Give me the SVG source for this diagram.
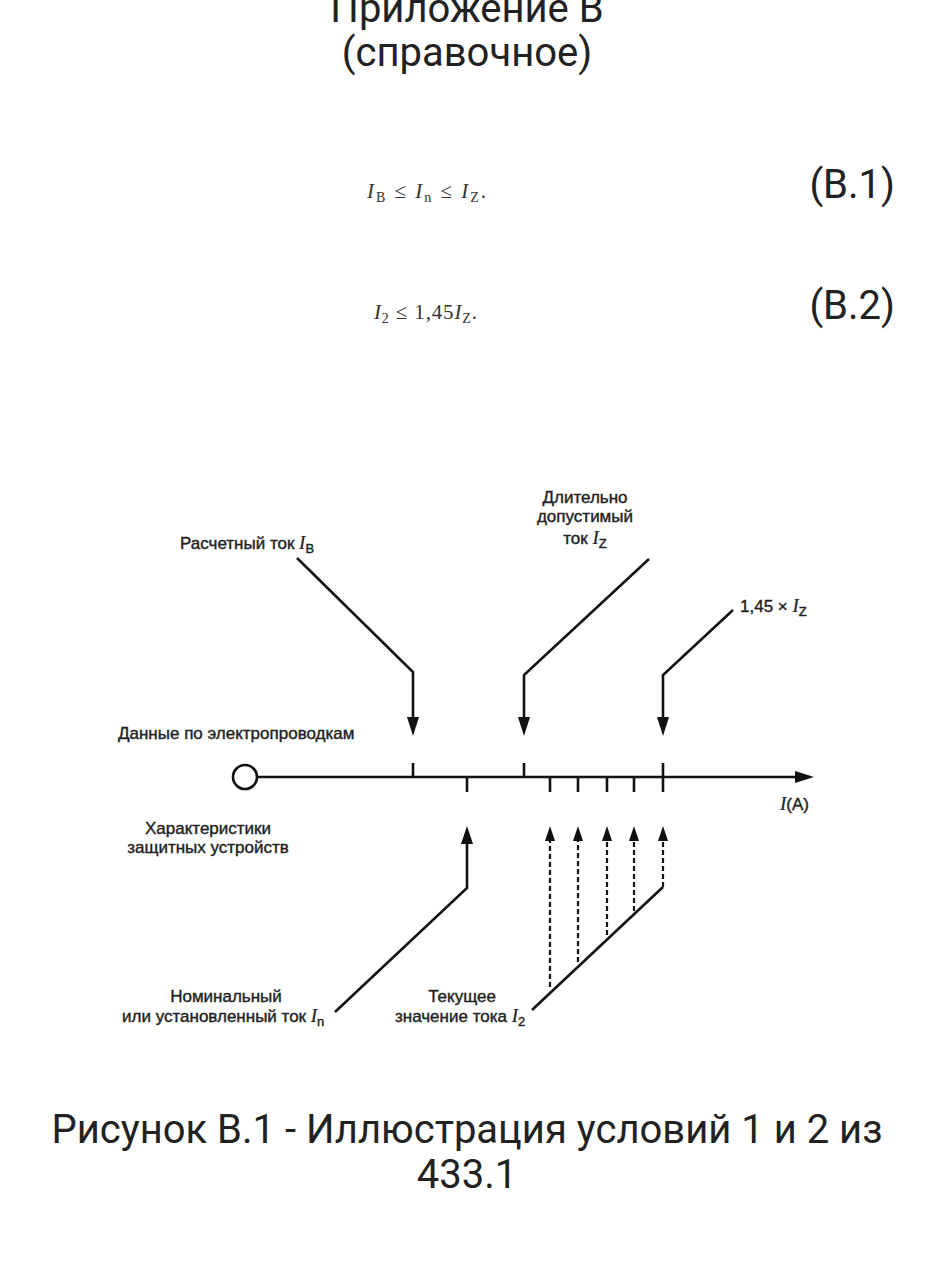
<svg xmlns="http://www.w3.org/2000/svg" width="935" height="1280" viewBox="0 0 935 1280">
<defs>
<style>
.big{font-family:Roboto,"Liberation Sans",sans-serif;font-size:40px;fill:#222}
.f{font-family:"Liberation Serif",serif;font-size:21px;fill:#333}
.it{font-style:italic}
.lab{font-family:"Liberation Sans",Arial,sans-serif;font-size:17px;fill:#222;stroke:#222;stroke-width:0.4}
.li{font-family:"Liberation Serif",serif;font-style:italic;font-size:19px;stroke-width:0.2}
.sub{font-size:13px;font-family:"Liberation Sans",sans-serif}
.ln{fill:none;stroke:#111;stroke-width:2.6;stroke-linejoin:miter}
.dash{fill:none;stroke:#111;stroke-width:2.2;stroke-dasharray:5 3}
.ah{fill:#111}
</style>
</defs>
<rect width="935" height="1280" fill="#fff"/>
<g id="header">
<text class="big" x="467" y="22" text-anchor="middle">Приложение В</text>
<text class="big" x="467" y="66" text-anchor="middle">(справочное)</text>
</g>
<g id="formula1">
<text class="f" x="367" y="198" textLength="119" lengthAdjust="spacing"><tspan class="it">I</tspan><tspan font-size="14" dy="4">B</tspan><tspan dy="-4"> ≤ </tspan><tspan class="it">I</tspan><tspan font-size="14" dy="4">n</tspan><tspan dy="-4"> ≤ </tspan><tspan class="it">I</tspan><tspan font-size="14" dy="4">Z</tspan><tspan dy="-4">.</tspan></text>
<text class="big" x="895" y="198" text-anchor="end">(B.1)</text>
</g>
<g id="formula2">
<text class="f" x="374" y="319" textLength="103" lengthAdjust="spacing"><tspan class="it">I</tspan><tspan font-size="14" dy="4">2</tspan><tspan dy="-4"> ≤ 1,45</tspan><tspan class="it">I</tspan><tspan font-size="14" dy="4">Z</tspan><tspan dy="-4">.</tspan></text>
<text class="big" x="895" y="319" text-anchor="end">(B.2)</text>
</g>
<g id="axis">
<circle cx="245" cy="777" r="12" fill="#fff" stroke="#111" stroke-width="2.6"/>
<line class="ln" x1="257" y1="777" x2="798" y2="777"/>
<polygon class="ah" points="814,777 795,771 795,783"/>
<path class="ln" d="M413 763V777M524 763V777M663 763V792M467 777V792M550 777V792M578 777V792M607 777V792M634 777V792"/>
<text class="lab" x="780" y="810"><tspan class="li">I</tspan>(A)</text>
</g>
<g id="label-wiring">
<text class="lab" x="118" y="739">Данные по электропроводкам</text>
</g>
<g id="label-protect">
<text class="lab" x="208" y="834" text-anchor="middle">Характеристики</text>
<text class="lab" x="208" y="853" text-anchor="middle">защитных устройств</text>
</g>
<g id="node-IB">
<text class="lab" x="180" y="549">Расчетный ток <tspan class="li">I</tspan><tspan class="sub" dy="4">B</tspan></text>
</g>
<g id="node-IZ">
<text class="lab" x="585" y="503" text-anchor="middle">Длительно</text>
<text class="lab" x="585" y="522" text-anchor="middle">допустимый</text>
<text class="lab" x="585" y="544" text-anchor="middle">ток <tspan class="li">I</tspan><tspan class="sub" dy="4">Z</tspan></text>
</g>
<g id="node-145">
<text class="lab" x="740" y="612">1,45 × <tspan class="li">I</tspan><tspan class="sub" dy="4">Z</tspan></text>
</g>
<g id="node-In">
<text class="lab" x="226" y="1002" text-anchor="middle">Номинальный</text>
<text class="lab" x="122" y="1022">или установленный ток <tspan class="li">I</tspan><tspan class="sub" dy="4">n</tspan></text>
</g>
<g id="node-I2">
<text class="lab" x="462" y="1002" text-anchor="middle">Текущее</text>
<text class="lab" x="395" y="1022">значение тока <tspan class="li">I</tspan><tspan class="sub" dy="4">2</tspan></text>
</g>
<g id="connectors">
<path class="ln" d="M297 558L413 672V720"/>
<polygon class="ah" points="413,736 407,717 419,717"/>
<path class="ln" d="M649 559L524 675V720"/>
<polygon class="ah" points="524,736 518,717 530,717"/>
<path class="ln" d="M733 610L663 675V720"/>
<polygon class="ah" points="663,736 657,717 669,717"/>
<path class="ln" d="M335 1012L467 888V840"/>
<polygon class="ah" points="467,826 461,844 473,844"/>
<path class="ln" d="M532 1010L663 887"/>
<path class="dash" d="M550 987V838M578 962V838M607 935V838M634 911V838M663 887V838"/>
<polygon class="ah" points="550,826 545,841 555,841"/>
<polygon class="ah" points="578,826 573,841 583,841"/>
<polygon class="ah" points="607,826 602,841 612,841"/>
<polygon class="ah" points="634,826 629,841 639,841"/>
<polygon class="ah" points="663,826 658,841 668,841"/>
</g>
<g id="caption">
<text class="big" x="467" y="1143" text-anchor="middle">Рисунок В.1 - Иллюстрация условий 1 и 2 из</text>
<text class="big" x="467" y="1188" text-anchor="middle">433.1</text>
</g>
</svg>
